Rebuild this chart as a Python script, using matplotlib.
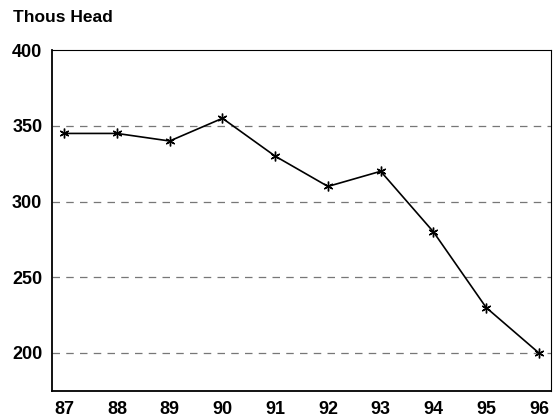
import matplotlib.pyplot as plt

years = [87, 88, 89, 90, 91, 92, 93, 94, 95, 96]
head = [345, 345, 340, 355, 330, 310, 320, 280, 230, 200]
yticks = [200, 250, 300, 350, 400]

plt.rcParams['font.family'] = ['Liberation Sans', 'DejaVu Sans']
plt.rcParams['font.weight'] = 'bold'

fig = plt.figure(figsize=(5.6, 4.18), dpi=100)
ax = fig.add_axes([0.093, 0.065, 0.891, 0.815])

for v in yticks[:-1]:
    ax.axhline(v, color='#777777', lw=0.9, ls=(0, (6, 5)), zorder=1)

ax.plot(years, head, color='black', lw=1.2, marker=(6, 2, 0), ms=7, mew=1.0, zorder=3)

ax.set_xlim(86.77, 96.23)
ax.set_ylim(175, 400)
ax.set_xticks(years)
ax.set_xticklabels([str(y) for y in years])
ax.set_yticks(yticks)
ax.tick_params(length=0, labelsize=13, pad=7)
for lab in ax.get_xticklabels() + ax.get_yticklabels():
    lab.set_fontweight('bold')

for s in ['left', 'bottom']:
    ax.spines[s].set_linewidth(1.3)
for s in ['top', 'right']:
    ax.spines[s].set_linewidth(0.8)

fig.text(0.023, 0.958, 'Thous Head', fontsize=12.5, fontweight='bold', va='center', ha='left')

fig.savefig('out.png', dpi=100)
